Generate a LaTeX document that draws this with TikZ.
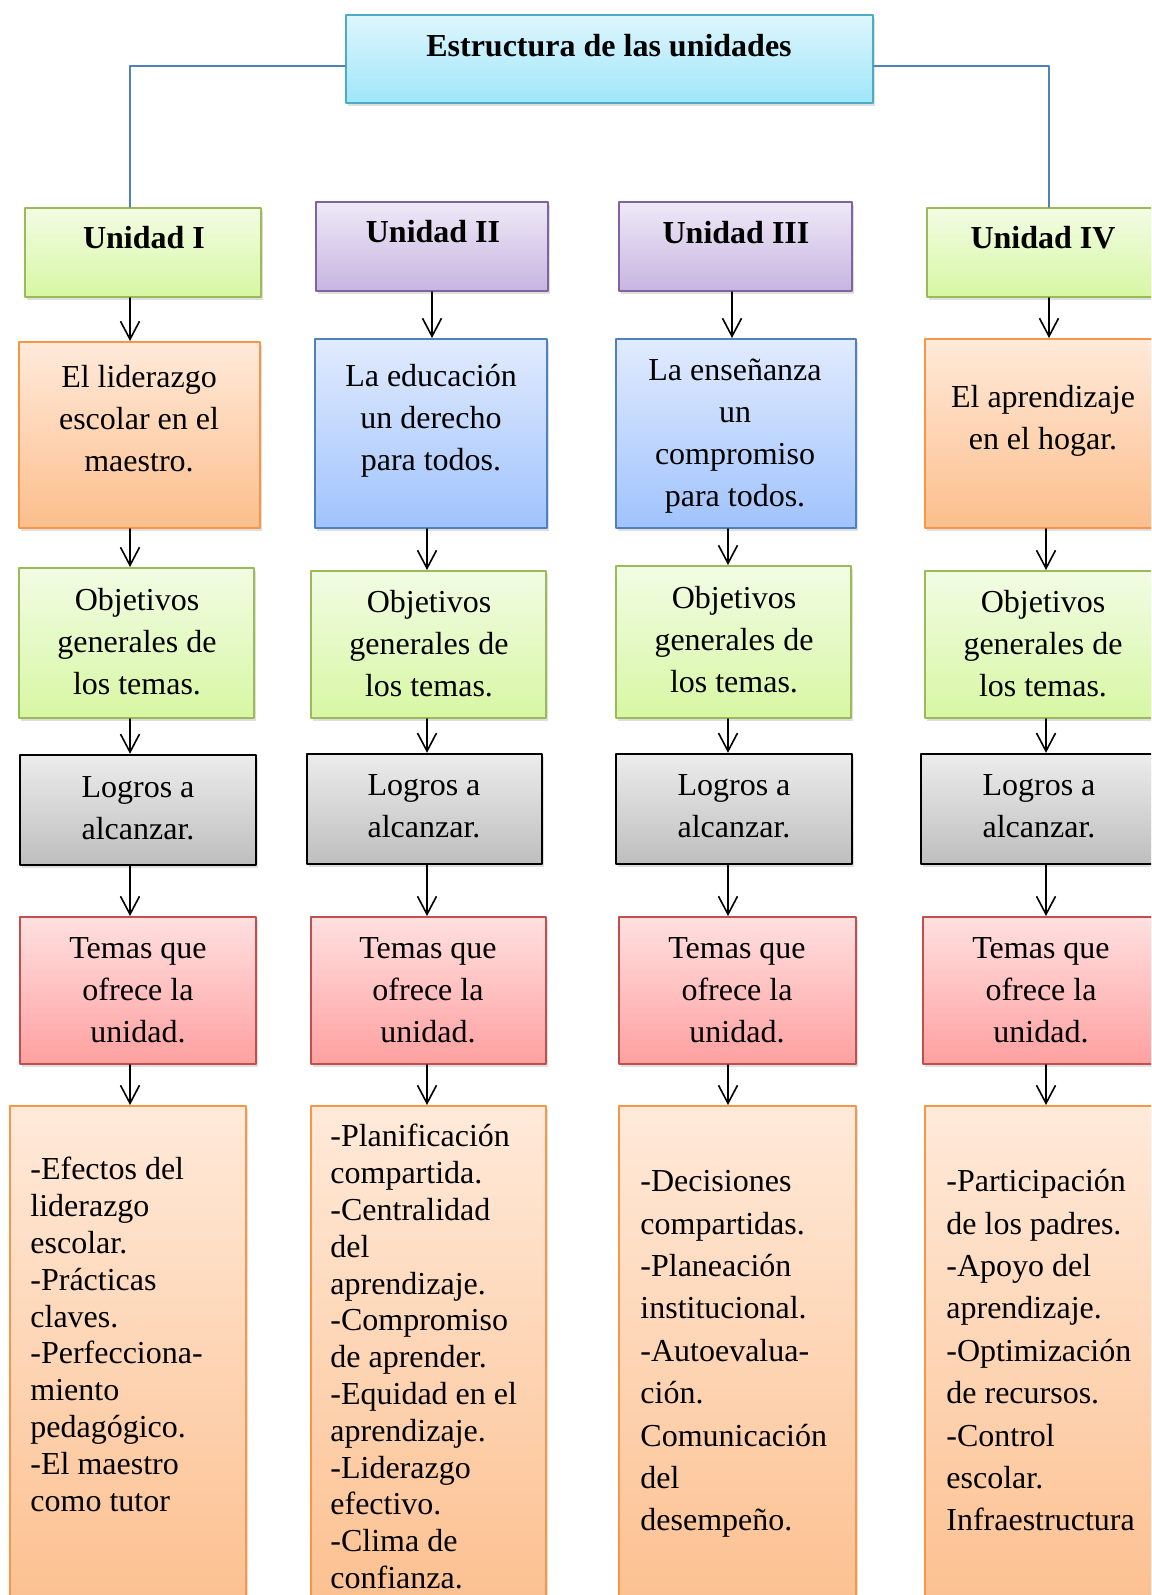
\documentclass[tikz,border=0pt]{standalone}
\usepackage{fontspec}
\setmainfont{Liberation Serif}
\usepackage{tikz}
\usetikzlibrary{arrows.meta,fit,shadows}
\definecolor{aqualine}{RGB}{75,172,198}
\definecolor{aquatop}{RGB}{222,246,253}
\definecolor{aquabot}{RGB}{160,230,250}
\definecolor{greenline}{RGB}{155,187,89}
\definecolor{greentop}{RGB}{242,252,228}
\definecolor{greenbot}{RGB}{215,247,163}
\definecolor{purpleline}{RGB}{128,100,162}
\definecolor{purpletop}{RGB}{238,233,246}
\definecolor{purplebot}{RGB}{200,180,226}
\definecolor{orangeline}{RGB}{247,150,70}
\definecolor{orangetop}{RGB}{255,234,218}
\definecolor{orangebot}{RGB}{252,190,140}
\definecolor{blueline}{RGB}{79,129,189}
\definecolor{bluetop}{RGB}{225,235,254}
\definecolor{bluebot}{RGB}{160,195,252}
\definecolor{greytop}{RGB}{236,236,236}
\definecolor{greybot}{RGB}{190,190,190}
\definecolor{redline}{RGB}{192,80,77}
\definecolor{redtop}{RGB}{255,224,224}
\definecolor{redbot}{RGB}{255,160,160}
\tikzset{
  box/.style={draw, line width=1pt, inner sep=0pt,
    drop shadow={shadow xshift=1pt, shadow yshift=-1.5pt, opacity=0.25}},
  aquabox/.style={box, draw=aqualine, top color=aquatop, bottom color=aquabot},
  greenbox/.style={box, draw=greenline, top color=greentop, bottom color=greenbot},
  purplebox/.style={box, draw=purpleline, top color=purpletop, bottom color=purplebot},
  orangebox/.style={box, draw=orangeline, top color=orangetop, bottom color=orangebot},
  bluebox/.style={box, draw=blueline, top color=bluetop, bottom color=bluebot},
  greybox/.style={box, draw=black, line width=1.2pt, top color=greytop, bottom color=greybot},
  redbox/.style={box, draw=redline, top color=redtop, bottom color=redbot},
  txt/.style={font=\fontsize{16}{21}\selectfont, align=center, inner sep=0pt},
  head/.style={txt, font=\fontsize{16}{21}\selectfont\bfseries},
  items/.style={font=\fontsize{16}{#1}\selectfont, align=left, anchor=north west, inner sep=0pt},
  arr/.style={line width=0.8pt, -{Straight Barb[length=9pt,width=9.5pt]}},
  link/.style={draw=blueline, line width=1pt}
}
\begin{document}
\begin{tikzpicture}[x=0.5pt, y=-0.5pt, line cap=round, line join=round]
  \useasboundingbox (0,0) rectangle (1151,1595);
  \clip (0,0) rectangle (1151,1595);
  % title
  \node[aquabox, fit={(346,15) (873,103)}] (top) {};
  \node[head] (toptxt) at (609,46) {Estructura de las unidades};
  % units
  \node[greenbox, fit={(25,208) (261,297)}] (u1) {};
  \node[purplebox, fit={(316,202) (548,291)}] (u2) {};
  \node[purplebox, fit={(619,202) (852,291)}] (u3) {};
  \node[greenbox, fit={(927,208) (1160,297)}] (u4) {};
  \node[head] (u1txt) at (144,238) {Unidad I};
  \node[head] (u2txt) at (433,232) {Unidad II};
  \node[head] (u3txt) at (736,233) {Unidad III};
  \node[head] (u4txt) at (1043,238) {Unidad IV};
  % themes
  \node[orangebox, fit={(19,342) (260,528)}] (h1) {};
  \node[bluebox, fit={(315,339) (547,528)}] (h2) {};
  \node[bluebox, fit={(616,339) (856,528)}] (h3) {};
  \node[orangebox, fit={(925,339) (1160,528)}] (h4) {};
  \node[txt] (h1txt) at (139,419) {El liderazgo\\escolar en el\\maestro.};
  \node[txt] (h2txt) at (431,421) {La educación\\un derecho\\para todos.};
  \node[txt] (h3txt) at (735,436) {La enseñanza\\un\\compromiso\\para todos.};
  \node[txt] (h4txt) at (1043,421) {El aprendizaje\\en el hogar.};
  % objectives
  \node[greenbox, fit={(19,568) (254,718)}] (o1) {};
  \node[greenbox, fit={(311,571) (546,718)}] (o2) {};
  \node[greenbox, fit={(616,566) (851,718)}] (o3) {};
  \node[greenbox, fit={(925,571) (1160,718)}] (o4) {};
  \node[txt] (o1txt) at (137,642) {Objetivos\\generales de\\los temas.};
  \node[txt] (o2txt) at (429,644) {Objetivos\\generales de\\los temas.};
  \node[txt] (o3txt) at (734,640) {Objetivos\\generales de\\los temas.};
  \node[txt] (o4txt) at (1043,644) {Objetivos\\generales de\\los temas.};
  % goals
  \node[greybox, fit={(20,755) (256,865)}] (l1) {};
  \node[greybox, fit={(307,754) (542,864)}] (l2) {};
  \node[greybox, fit={(616,754) (852,864)}] (l3) {};
  \node[greybox, fit={(921,754) (1160,864)}] (l4) {};
  \node[txt] (l1txt) at (138,808) {Logros a\\alcanzar.};
  \node[txt] (l2txt) at (424,806) {Logros a\\alcanzar.};
  \node[txt] (l3txt) at (734,806) {Logros a\\alcanzar.};
  \node[txt] (l4txt) at (1039,806) {Logros a\\alcanzar.};
  % topics
  \node[redbox, fit={(20,917) (256,1064)}] (t1) {};
  \node[redbox, fit={(311,917) (546,1064)}] (t2) {};
  \node[redbox, fit={(619,917) (856,1064)}] (t3) {};
  \node[redbox, fit={(923,917) (1160,1064)}] (t4) {};
  \node[txt] (t1txt) at (138,990) {Temas que\\ofrece la\\unidad.};
  \node[txt] (t2txt) at (428,990) {Temas que\\ofrece la\\unidad.};
  \node[txt] (t3txt) at (737,990) {Temas que\\ofrece la\\unidad.};
  \node[txt] (t4txt) at (1041,990) {Temas que\\ofrece la\\unidad.};
  % lists
  \node[orangebox, fit={(10,1106) (246,1630)}] (s1) {};
  \node[orangebox, fit={(311,1106) (546,1630)}] (s2) {};
  \node[orangebox, fit={(619,1106) (856,1630)}] (s3) {};
  \node[orangebox, fit={(925,1106) (1160,1630)}] (s4) {};
  \node[items=18.4pt] (s1txt) at (30,1157) {-Efectos del\\liderazgo\\escolar.\\-Prácticas\\claves.\\-Perfecciona-\\miento\\pedagógico.\\-El maestro\\como tutor};
  \node[items=18.4pt] (s2txt) at (330,1124) {-Planificación\\compartida.\\-Centralidad\\del\\aprendizaje.\\-Compromiso\\de aprender.\\-Equidad en el\\aprendizaje.\\-Liderazgo\\efectivo.\\-Clima de\\confianza.};
  \node[items=21.2pt] (s3txt) at (640,1170) {-Decisiones\\compartidas.\\-Planeación\\institucional.\\-Autoevalua-\\ción.\\Comunicación\\del\\desempeño.};
  \node[items=21.2pt] (s4txt) at (946,1169) {-Participación\\de los padres.\\-Apoyo del\\aprendizaje.\\-Optimización\\de recursos.\\-Control\\escolar.\\Infraestructura};
  % arrows down each column
  \foreach \c/\xa/\xb in {1/130/130, 2/432/427, 3/732/728, 4/1049/1046} {
    \coordinate (a\c) at (\xa,0);
    \coordinate (b\c) at (\xb,0);
    \draw[arr] (u\c.south -| a\c) -- (h\c.north -| a\c);
    \foreach \p/\q in {h/o, o/l, l/t, t/s}
      \draw[arr] (\p\c.south -| b\c) -- (\q\c.north -| b\c);
  }
  \draw[link] ([yshift=-3.5pt]top.west) -| (u1.north -| a1);
  \draw[link] ([yshift=-3.5pt]top.east) -| (u4.north -| a4);
\end{tikzpicture}
\end{document}
